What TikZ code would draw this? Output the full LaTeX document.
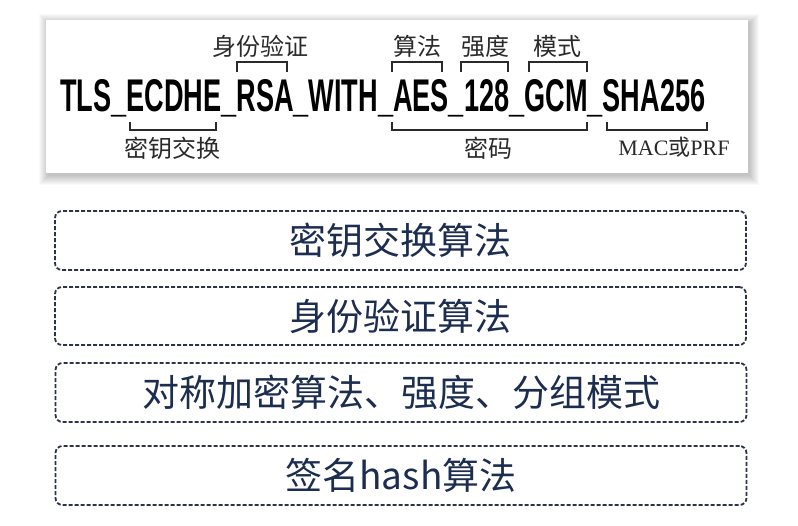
\documentclass[tikz,border=0pt]{standalone}
\usepackage{fontspec}
\usepackage{graphicx}
\setmainfont{Liberation Serif}
\newfontfamily\cjk{Noto Sans CJK SC}
\newfontfamily\boldsans{Liberation Sans}
\definecolor{navy}{HTML}{1C2D50}
\definecolor{dashc}{HTML}{2C3446}
\definecolor{brkc}{HTML}{2A2A2A}
\begin{document}
\begin{tikzpicture}[x=1pt,y=-1pt,
  brk/.style={draw=brkc, line width=1.4pt},
  lbl/.style={font=\cjk\fontsize{24}{26}\selectfont, text=brkc, inner sep=0pt},
  dbox/.style={draw=dashc, dash pattern=on 4pt off 2pt, line width=1.8pt,
    rounded corners=7pt, minimum width=691pt, inner sep=0pt,
    font=\cjk\fontsize{37}{40}\selectfont, text=navy}]
\useasboundingbox (0,0) rectangle (798,526);
\fill[white] (0,0) rectangle (798,526);
% panel shadow
\foreach \i in {1,...,10}
  \fill[black, opacity=0.025] (46-\i+3,20-\i+4) rectangle (748+\i+1,173+\i+2);
\fill[white] (46,20) rectangle (748,173);
% cipher suite string
\node[anchor=base west, inner sep=0pt] (tls) at (60,112)
  {\resizebox{645pt}{32pt}{\boldsans\bfseries TLS\_ECDHE\_RSA\_WITH\_AES\_128\_GCM\_SHA256}};
% top brackets
\draw[brk] (237,72) -- (237,62) -- (287,62) -- (287,72);
\draw[brk] (392,72) -- (392,62) -- (442,62) -- (442,72);
\draw[brk] (461,72) -- (461,62) -- (508,62) -- (508,72);
\draw[brk] (529,72) -- (529,62) -- (587,62) -- (587,72);
\node[lbl] (auth) at (260,46) {身份验证};
\node[lbl] (alg) at (417,46) {算法};
\node[lbl] (str) at (485,46) {强度};
\node[lbl] (mode) at (557,46) {模式};
% bottom brackets
\draw[brk] (130,122) -- (130,130) -- (216,130) -- (216,122);
\draw[brk] (392,122) -- (392,130) -- (587,130) -- (587,122);
\draw[brk] (607,122) -- (607,130) -- (707,130) -- (707,122);
\node[lbl] (kx) at (172,148) {密钥交换};
\node[lbl] (ciph) at (488,148) {密码};
\node[lbl, font=\fontsize{22}{24}\selectfont] (mac) at (674,147) {MAC{\cjk\fontsize{22}{24}\selectfont 或}PRF};
% boxes
\node[dbox, minimum height=59pt] (b1) at (400.5,240.5) {密钥交换算法};
\node[dbox, minimum height=58pt] (b2) at (400.5,316) {身份验证算法};
\node[dbox, minimum height=59pt] (b3) at (401,392.5) {对称加密算法、强度、分组模式};
\node[dbox, minimum height=59pt] (b4) at (401,475.5) {签名hash算法};
\end{tikzpicture}
\end{document}
